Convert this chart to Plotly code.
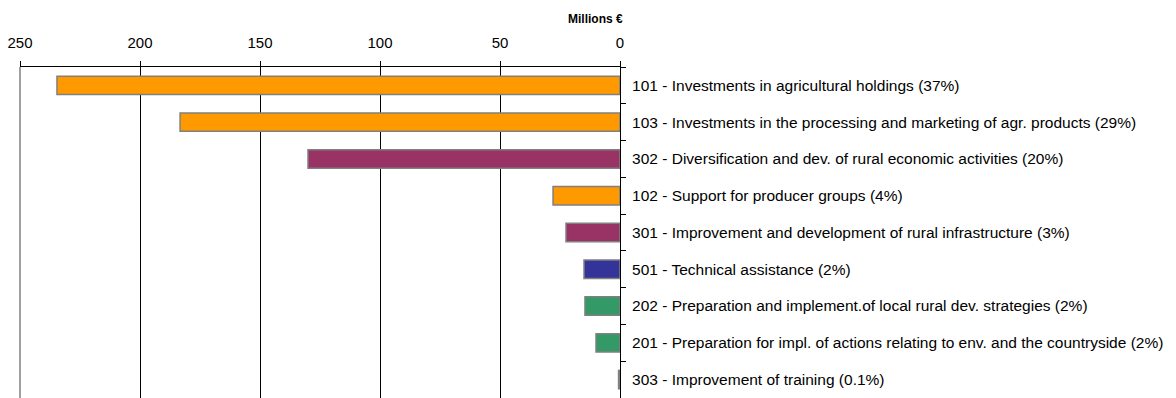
import plotly.graph_objects as go

categories = [
    "101 - Investments in agricultural holdings (37%)",
    "103 - Investments in the processing and marketing of agr. products (29%)",
    "302 - Diversification and dev. of rural economic activities (20%)",
    "102 - Support for producer groups (4%)",
    "301 - Improvement and development of rural infrastructure (3%)",
    "501 - Technical assistance (2%)",
    "202 - Preparation and implement.of local rural dev. strategies (2%)",
    "201 - Preparation for impl. of actions relating to env. and the countryside (2%)",
    "303 - Improvement of training (0.1%)",
]
values = [234.6, 183.3, 130.0, 27.9, 22.5, 15.0, 14.6, 10.0, 0.6]
colors = ["#FF9900", "#FF9900", "#993366", "#FF9900", "#993366",
          "#333399", "#339966", "#339966", "#339966"]
tick_vals = [250, 200, 150, 100, 50, 0]

fig = go.Figure(go.Bar(
    x=values, y=categories, orientation="h",
    marker=dict(color=colors, line=dict(color="#808080", width=1.5)),
    width=0.5,
))

fig.update_layout(
    width=1176, height=398,
    margin=dict(l=20, r=556, t=67, b=0),
    plot_bgcolor="white", paper_bgcolor="white",
    font=dict(family="Liberation Sans, Arial", color="black"),
    showlegend=False,
    bargap=0.5,
)
fig.update_xaxes(
    side="top", range=[250, 0], tickvals=tick_vals,
    showgrid=True, gridcolor="black", gridwidth=1,
    showline=True, linecolor="black", linewidth=1,
    ticks="outside", ticklen=5, tickcolor="black",
    tickfont=dict(size=15), zeroline=False,
    automargin=False, ticklabelstandoff=7,
)
fig.update_yaxes(
    side="right", autorange="reversed",
    showline=True, linecolor="black", linewidth=1,
    ticks="outside", ticklen=5, tickcolor="black", tickson="boundaries",
    tickfont=dict(size=15.5), showgrid=False,
    automargin=False, ticklabelstandoff=8,
)
# plot-area left border (gray)
fig.add_shape(type="line", xref="paper", yref="paper", x0=0, x1=0, y0=0, y1=1,
              line=dict(color="#808080", width=1.5), layer="below")
fig.add_annotation(
    text="<b>Millions €</b>", xref="x", x=0, yref="paper", y=1,
    xanchor="right", yanchor="bottom", yshift=39, xshift=5,
    showarrow=False, font=dict(size=12, color="black"),
)
fig.write_html("out.html", config={"displayModeBar": False},
               post_script="document.body.style.margin='0';")
